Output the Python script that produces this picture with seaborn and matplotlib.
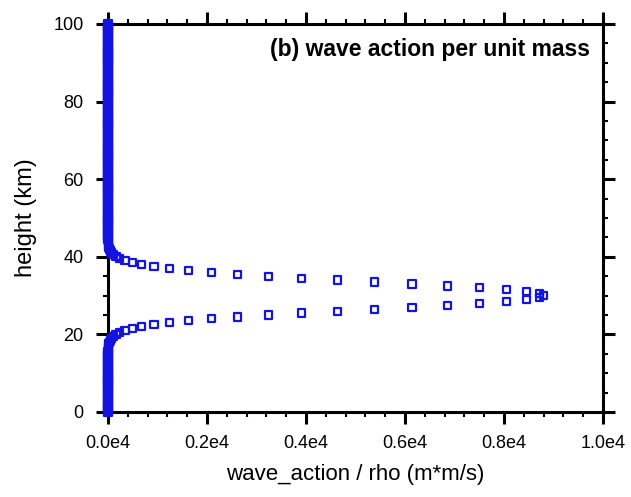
import numpy as np
import pandas as pd
import matplotlib
matplotlib.use("Agg")
import matplotlib.pyplot as plt
import seaborn as sns
from matplotlib.ticker import MultipleLocator

# Model levels (km), 0.5 km spacing
height_km = np.arange(0.0, 100.5, 0.5)

# Wave action / rho (m*m/s) for the 15-45 km layer; zero elsewhere
layer_heights = np.arange(15.0, 45.5, 0.5)
layer_values = [
    1, 2, 3, 6, 10, 17, 28, 44, 70, 107,
    161, 238, 345, 489, 680, 928, 1240, 1624, 2085, 2624,
    3237, 3915, 4640, 5391, 6140, 6853, 7499, 8043, 8455, 8712,
    8800,
    8712, 8455, 8043, 7499, 6853, 6140, 5391, 4640, 3915, 3237,
    2624, 2085, 1624, 1240, 928, 680, 489, 345, 238, 161,
    107, 70, 44, 28, 17, 10, 6, 3, 2, 1,
]

x_ticks = [0.0, 0.2e4, 0.4e4, 0.6e4, 0.8e4, 1.0e4]
x_tick_labels = ["0.0e4", "0.2e4", "0.4e4", "0.6e4", "0.8e4", "1.0e4"]
y_ticks = [0, 20, 40, 60, 80, 100]

profile = pd.Series(0.0, index=np.round(height_km, 1))
profile.loc[np.round(layer_heights, 1)] = layer_values
df = pd.DataFrame({"height": profile.index, "wave_action": profile.values})

sns.set_style("ticks")
plt.rcParams["font.family"] = ["Liberation Sans", "DejaVu Sans"]
plt.rcParams["text.color"] = "black"
plt.rcParams["axes.labelcolor"] = "black"
plt.rcParams["xtick.color"] = "black"
plt.rcParams["ytick.color"] = "black"

fig = plt.figure(figsize=(6.31, 4.97), dpi=100)
ax = fig.add_axes([108 / 631, 1 - 412 / 497, 495 / 631, 388 / 497])

sns.scatterplot(
    data=df, x="wave_action", y="height", ax=ax,
    marker="s", s=27, facecolor="none", edgecolor="#1414e0",
    linewidth=1.6, clip_on=False, zorder=5,
)

ax.set_xlim(0, 1.0e4)
ax.set_ylim(0, 100)
ax.set_xticks(x_ticks)
ax.set_xticklabels(x_tick_labels)
ax.set_yticks(y_ticks)
ax.xaxis.set_minor_locator(MultipleLocator(400))
ax.yaxis.set_minor_locator(MultipleLocator(5))

for side in ["left", "right", "top", "bottom"]:
    ax.spines[side].set_visible(True)
    ax.spines[side].set_linewidth(2.2)
    ax.spines[side].set_color("black")

ax.tick_params(which="both", direction="out", top=True, right=True,
               labeltop=False, labelright=False, color="black",
               labelcolor="black")
ax.tick_params(which="major", length=8.5, width=2.2, labelsize=13)
ax.tick_params(which="minor", length=3.8, width=1.5)
ax.tick_params(axis="x", which="major", pad=8)
ax.tick_params(axis="y", which="major", pad=9)

ax.set_xlabel("wave_action / rho (m*m/s)", fontsize=16, labelpad=9,
              color="black")
ax.set_ylabel("height (km)", fontsize=17, labelpad=12, color="black")

ax.text(0.974, 0.933, "(b) wave action per unit mass", transform=ax.transAxes,
        ha="right", va="center", fontsize=16.5, fontweight="bold",
        color="black")

fig.savefig("out.png", dpi=100)
